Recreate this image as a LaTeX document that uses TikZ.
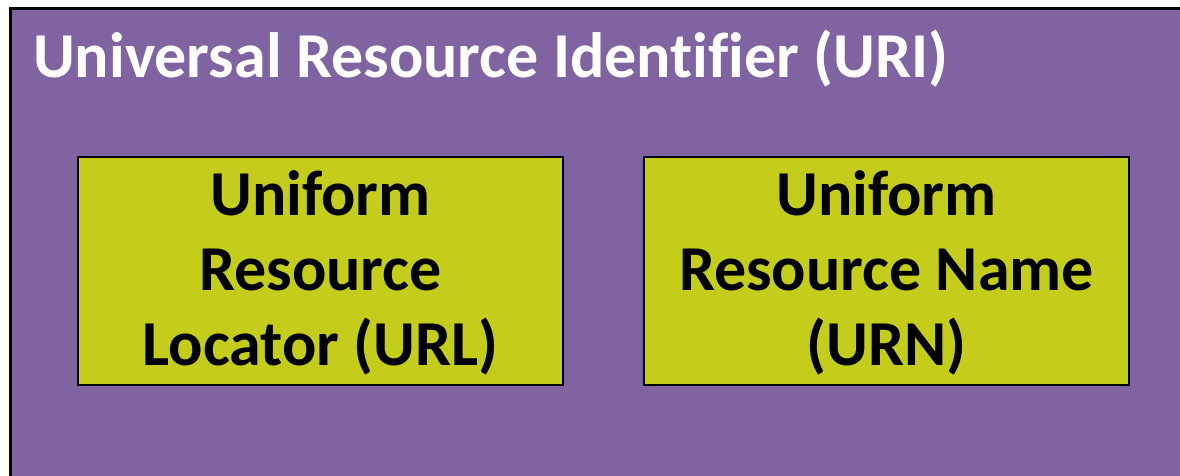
\documentclass[tikz,border=0pt]{standalone}
\usepackage{fontspec}
\setmainfont{Carlito}[Ligatures=NoCommon]
\definecolor{uripurple}{HTML}{8064A2}
\definecolor{urlgreen}{HTML}{C4CC1C}
\begin{document}
\begin{tikzpicture}[x=1pt,y=-1pt,
  schemebox/.style={draw=black, line width=2pt, fill=urlgreen,
    minimum width=485pt, minimum height=228pt, inner sep=0pt},
  schemetext/.style={align=center, inner sep=0pt,
    font=\fontsize{64}{75}\selectfont\bfseries},
  outerbox/.style={draw=black, line width=2.5pt, fill=uripurple}]
  \useasboundingbox (0,0) rectangle (1180,476);
  \clip (0,0) rectangle (1180,476);
  % outer URI frame, running off the right and bottom edges
  \draw[outerbox] (10.5,8.5) rectangle (1200,500);
  \node[anchor=base west, text=white, inner sep=0pt,
        font=\fontsize{64}{72}\selectfont\bfseries] (uri) at (33,78)
        {Universal Resource Identifier (URI)};
  % the two kinds of identifier
  \node[schemebox] (url) at (320.5,271) {};
  \node[schemebox] (urn) at (886.5,271) {};
  % base anchor sits on the last line of a multi-line node
  \node[schemetext, anchor=base] (urltext) at (url.center |- 0,365)
        {Uniform\\Resource\\Locator (URL)};
  \node[schemetext, anchor=base] (urntext) at (urn.center |- 0,365)
        {Uniform\\Resource Name\\(URN)};
\end{tikzpicture}
\end{document}
